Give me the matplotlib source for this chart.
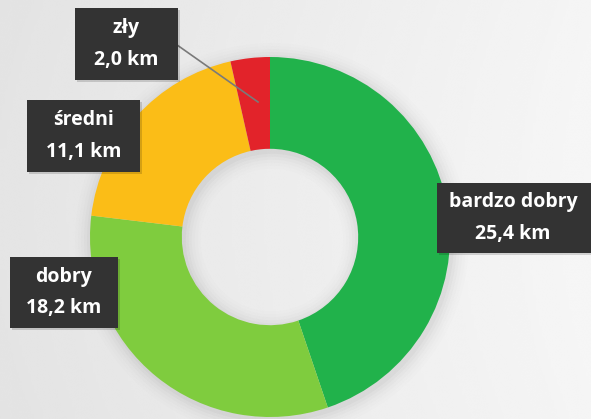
import numpy as np
import matplotlib
matplotlib.use("Agg")
import matplotlib.pyplot as plt
from matplotlib.patches import Rectangle, Wedge

# ---- data ----
categories = ["bardzo dobry", "dobry", "średni", "zły"]
values = [25.4, 18.2, 11.1, 2.0]
value_labels = ["25,4 km", "18,2 km", "11,1 km", "2,0 km"]
colors = ["#21b24b", "#7fcc3e", "#fbbd17", "#e2232a"]

W, H = 591, 419
fig = plt.figure(figsize=(W / 100, H / 100), dpi=100)
ax = fig.add_axes([0, 0, 1, 1])

# background: soft gray gradient, lighter towards the right
gx = np.linspace(0, 1, 200)
gy = np.linspace(0, 1, 150)
X, Y = np.meshgrid(gx, gy)
bg = 0.895 + 0.07 * X - 0.02 * (Y - 0.5) ** 2
ax.imshow(bg, extent=[0, W, 0, H], cmap="gray", vmin=0, vmax=1,
          aspect="auto", zorder=0, interpolation="bicubic")

cx, cy, r = 270, H - 237, 180
ring = r * 0.51

# faint shadow around the ring (ring shaped, hole stays clear)
for k, a in enumerate(np.linspace(0.025, 0.006, 6)):
    ax.add_patch(Wedge((cx + 2, cy - 3), r + 2 + 3 * k, 0, 360,
                       width=ring + 4 + 6 * k, color="black",
                       alpha=a, lw=0, zorder=1))

ax.pie(values, colors=colors, startangle=90, counterclock=False,
       center=(cx, cy), radius=r, frame=True,
       wedgeprops=dict(width=ring, linewidth=0, zorder=2))
ax.set_xlim(0, W)
ax.set_ylim(0, H)
ax.axis("off")

# label boxes (x0, y0_top, width, height) in pixel coords from top
boxes = {
    "bardzo dobry": (437, 183, 160, 70),
    "dobry": (10, 257, 108, 71),
    "średni": (27, 100, 113, 72),
    "zły": (75, 8, 103, 72),
}

# leader line for the small slice
ax.plot([170, 258], [H - 40, H - 102], color="#7a7a7a", lw=1.2, zorder=3)

for cat, lab in zip(categories, value_labels):
    x0, y0, bw, bh = boxes[cat]
    ax.add_patch(Rectangle((x0 + 2, H - y0 - bh - 2), bw, bh, color="black",
                           alpha=0.15, lw=0, zorder=4))
    ax.add_patch(Rectangle((x0, H - y0 - bh), bw, bh, color="#333333",
                           lw=0, zorder=5))
    tx = x0 + bw / 2 if cat != "bardzo dobry" else 513
    ax.text(tx, H - y0 - bh / 2, f"{cat}\n{lab}", color="white",
            ha="center", va="center", fontsize=14, fontweight="bold",
            family="Open Sans", linespacing=1.75, zorder=6)

fig.savefig("out.png", dpi=100)
